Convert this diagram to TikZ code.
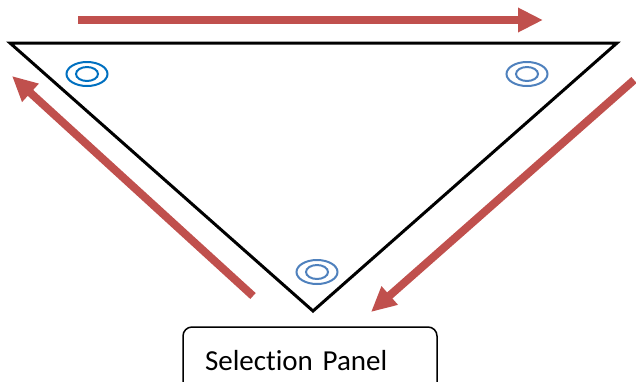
\documentclass[tikz,border=0pt]{standalone}
\usepackage{fontspec}
\setmainfont[Ligatures=NoCommon]{Carlito}
\usetikzlibrary{arrows.meta}
\definecolor{arrowred}{HTML}{C0504D}
\definecolor{ringblue}{HTML}{4F81BD}
\definecolor{ringdark}{HTML}{0070C0}
\tikzset{
  flow/.style={arrowred, line width=8pt, -{Triangle[length=25pt,width=23pt]}},
  ring/.style={line width=2pt},
  panel/.style={draw, line width=1.5pt, rounded corners=9pt, minimum width=254pt, minimum height=68pt, font=\fontsize{29}{34}\selectfont, inner sep=0pt}
}
\begin{document}
\begin{tikzpicture}[x=1pt, y=-1pt]
	\useasboundingbox (0,0) rectangle (636,381);
	\clip (0,0) rectangle (636,381);
	% corners of the triangle
	\coordinate (tl) at (10,43);
	\coordinate (tr) at (617,43);
	\coordinate (bt) at (313,311);
	\draw[line width=3pt, line join=miter] (tl) -- (tr) -- (bt) -- cycle;
	% rings
	\foreach \name/\x/\y/\c in {ringA/87/74/ringdark, ringB/527/74/ringblue, ringC/317/272/ringblue} {
		\draw[ring, \c] (\x,\y) ellipse (20.5pt and 12pt);
		\draw[ring, \c] (\x,\y) ellipse (11pt and 7pt);
	}
	% arrows round the triangle
	\coordinate (topA) at (78,20);
	\coordinate (topB) at (543,20);
	\coordinate (rightA) at (634,80);
	\coordinate (rightB) at (371,312);
	\coordinate (leftA) at (253,296);
	\coordinate (leftB) at (12,76);
	\draw[flow] (topA) -- (topB);
	\draw[flow] (rightA) -- (rightB);
	\draw[flow] (leftA) -- (leftB);
	% panel
	\node[panel, text width=210pt, align=left] (panel) at (310,361) {Selection Panel};
\end{tikzpicture}
\end{document}
